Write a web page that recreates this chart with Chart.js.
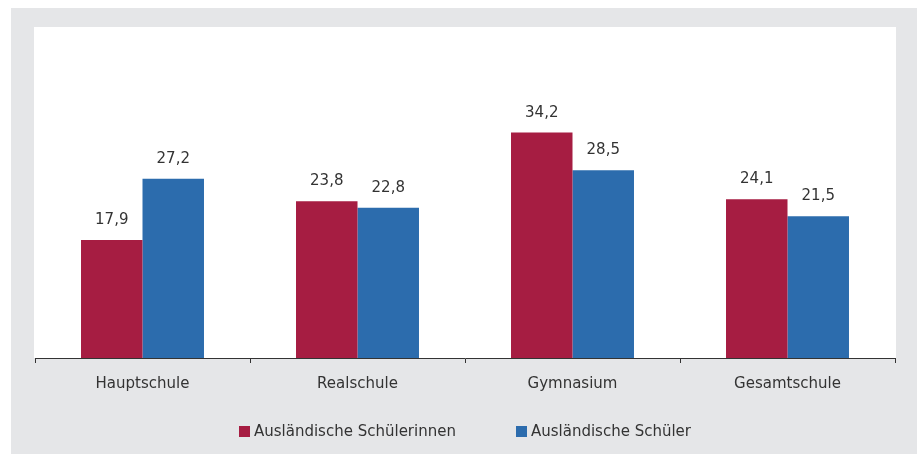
<!DOCTYPE html>
<html>
<head>
<meta charset="utf-8">
<script src="https://cdn.jsdelivr.net/npm/chart.js@4"></script>
<style>
  body { margin: 0; background: #fff; }
  #frame { position: absolute; left: 11px; top: 8px; width: 906px; height: 446px; background: #e5e6e8; }
  canvas { display: block; }
  #legend {
    position: absolute; left: 24px; width: 860px; top: 415px; height: 17px;
    display: flex; justify-content: center; align-items: center; gap: 60px;
    font: 15px "DejaVu Sans"; color: #333; line-height: 17px;
  }
  #legend .item { display: flex; align-items: center; white-space: nowrap; }
  #legend .box { width: 11px; height: 11px; margin-right: 4px; }
</style>
</head>
<body>
<div id="frame">
  <canvas id="schoolChart" width="906" height="446"></canvas>
  <div id="legend"></div>
</div>
<script>
// Schulformen (Kategorien)
const categories = ['Hauptschule', 'Realschule', 'Gymnasium', 'Gesamtschule'];
// Werte in Prozent
const femaleValues = [17.9, 23.8, 34.2, 24.1];
const maleValues = [27.2, 22.8, 28.5, 21.5];
const seriesLabels = ['Ausländische Schülerinnen', 'Ausländische Schüler'];
const seriesColors = ['#a61d42', '#2c6cad'];

const FONT = 'DejaVu Sans';
const TEXT = '#333333';

// white plot background behind the bars
const plotBackground = {
    id: 'plotBackground',
    beforeDraw(chart) {
        const { ctx, chartArea } = chart;
        ctx.save();
        ctx.fillStyle = '#ffffff';
        ctx.fillRect(chartArea.left - 1, chartArea.top - 1.5, chartArea.right - chartArea.left + 2, chartArea.bottom - chartArea.top + 1.5);
        ctx.restore();
    }
};

// value labels above each bar (German decimal comma)
const valueLabels = {
    id: 'valueLabels',
    afterDatasetsDraw(chart) {
        const ctx = chart.ctx;
        ctx.save();
        ctx.font = '15px "' + FONT + '"';
        ctx.fillStyle = TEXT;
        ctx.textAlign = 'center';
        ctx.textBaseline = 'alphabetic';
        chart.data.datasets.forEach((ds, i) => {
            chart.getDatasetMeta(i).data.forEach((bar, j) => {
                const txt = ds.data[j].toFixed(1).replace('.', ',');
                ctx.fillText(txt, bar.x, bar.y - 16);
            });
        });
        ctx.restore();
    }
};

const ctx = document.getElementById('schoolChart').getContext('2d');
const chart = new Chart(ctx, {
    type: 'bar',
    data: {
        labels: categories,
        datasets: [
            {
                label: seriesLabels[0],
                data: femaleValues,
                backgroundColor: seriesColors[0]
            },
            {
                label: seriesLabels[1],
                data: maleValues,
                backgroundColor: seriesColors[1]
            }
        ]
    },
    options: {
        responsive: false,
        animation: false,
        categoryPercentage: 0.572,
        barPercentage: 1,
        layout: {
            padding: { left: 24, right: 22, top: 20.5, bottom: 56 }
        },
        plugins: {
            tooltip: { enabled: false },
            legend: { display: false }
        },
        scales: {
            x: {
                afterFit(scale) {
                    scale.height = 40;
                },
                grid: {
                    display: true,
                    drawOnChartArea: false,
                    drawTicks: true,
                    tickLength: 5,
                    color: '#333333'
                },
                border: { display: true, color: '#333333', width: 1 },
                ticks: {
                    color: TEXT,
                    padding: 12,
                    font: { family: FONT, size: 15 }
                }
            },
            y: {
                display: false,
                min: 0,
                max: 50
            }
        }
    },
    plugins: [plotBackground, valueLabels]
});

// HTML legend built from the chart's datasets
const legendEl = document.getElementById('legend');
chart.data.datasets.forEach(ds => {
    const item = document.createElement('div');
    item.className = 'item';
    const box = document.createElement('span');
    box.className = 'box';
    box.style.background = ds.backgroundColor;
    item.appendChild(box);
    item.appendChild(document.createTextNode(ds.label));
    legendEl.appendChild(item);
});
</script>
</body>
</html>
